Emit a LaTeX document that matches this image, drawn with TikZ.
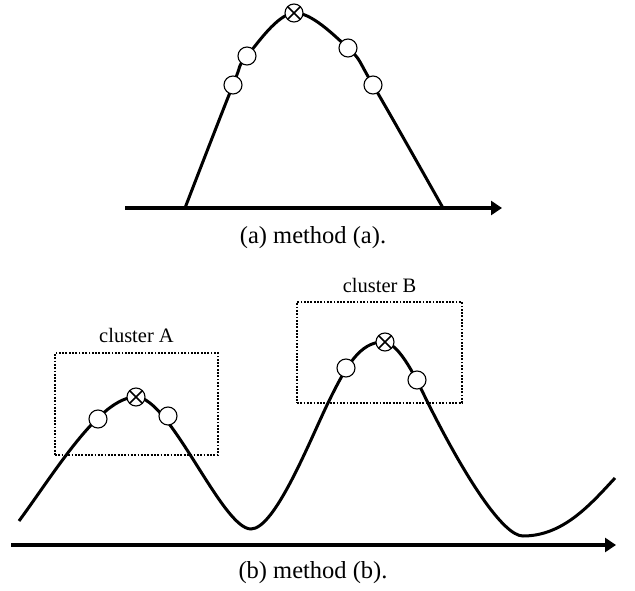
\documentclass[tikz,border=0pt]{standalone}
\usepackage{fontspec}
\setmainfont{Liberation Serif}
\usepackage{tikz}
\usetikzlibrary{positioning, arrows.meta}

\begin{document}
\begin{tikzpicture}[
    x=1pt, y=-1pt,
    curve/.style={line width=3pt},
    axis/.style={line width=4.5pt, -{Triangle[length=11pt, width=14pt]}},
    sample/.style={circle, draw, fill=white, line width=1.1pt, minimum size=18pt, inner sep=0pt},
    best/.style={sample, path picture={\draw[line width=1.6pt] (path picture bounding box.north west) -- (path picture bounding box.south east) (path picture bounding box.north east) -- (path picture bounding box.south west);}},
    clusterbox/.style={draw, line width=2.8pt, dash pattern=on 1.8pt off 1.5pt, inner sep=0pt},
    clabel/.style={font=\fontsize{20.5}{24}\selectfont, inner sep=0pt},
    captext/.style={font=\fontsize{24.5}{28}\selectfont, inner sep=0pt}
]
\useasboundingbox (0,0) rectangle (635,591);

% (a) method (a)
\coordinate (axA0) at (125,208);
\coordinate (axA1) at (502,208);
\draw[axis] (axA0) -- (axA1);
\draw[curve] plot[smooth, tension=0.6] coordinates {(185,208) (233,85) (247,56) (294,13) (348,48) (373,85) (443,208)};

\node[sample] (a1) at (233,85) {};
\node[sample] (a2) at (247,56) {};
\node[best] (abest) at (294,13) {};
\node[sample] (a3) at (348,48) {};
\node[sample] (a4) at (373,85) {};

\node[captext] (capA) at (313,238) {(a) method (a).};

% (b) method (b)
\node[clusterbox, minimum width=163pt, minimum height=102pt] (boxA) at (136.5,404) {};
\node[clusterbox, minimum width=165pt, minimum height=101pt] (boxB) at (379.5,352.5) {};
\node[clabel, above=9pt of boxA] (labA) {cluster A};
\node[clabel, above=8pt of boxB] (labB) {cluster B};

\coordinate (axB0) at (11,545);
\coordinate (axB1) at (616,545);
\draw[axis] (axB0) -- (axB1);
\draw[curve] (19,521) .. controls (55,472) and (100,397) .. (136,397)
    .. controls (170,397) and (222,529) .. (251,529)
    .. controls (275,529) and (310,440) .. (328,403)
    .. controls (346,366) and (360,342) .. (383,342)
    .. controls (400,342) and (418,383) .. (428,403)
    .. controls (465,477) and (503,536) .. (523,536)
    .. controls (563,536) and (590,505) .. (615,478);

\node[sample] (bA1) at (98,419) {};
\node[best] (bAbest) at (136,397) {};
\node[sample] (bA2) at (168,416) {};
\node[sample] (bB1) at (346,368) {};
\node[best] (bBbest) at (385,342) {};
\node[sample] (bB2) at (417,380) {};

\node[captext] (capB) at (313,573) {(b) method (b).};

\end{tikzpicture}
\end{document}
